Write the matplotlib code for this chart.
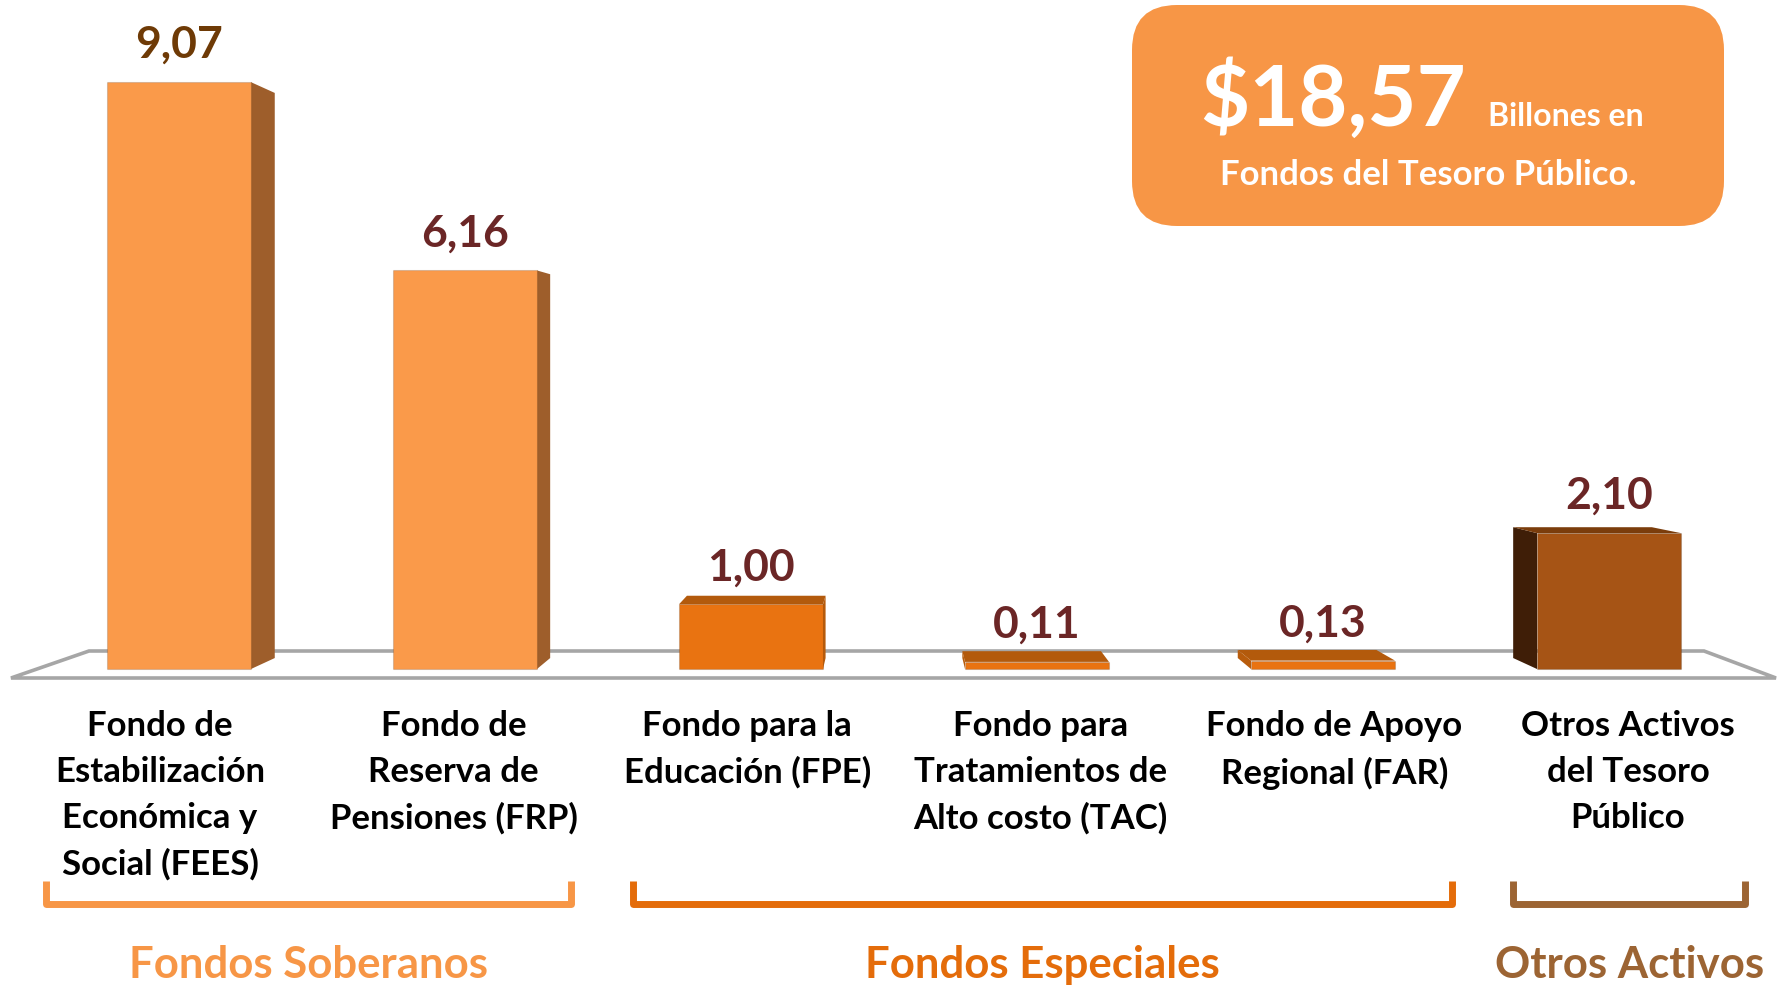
import matplotlib
matplotlib.use("Agg")
import matplotlib.pyplot as plt
from matplotlib.patches import Polygon, FancyBboxPatch
from matplotlib.transforms import Affine2D

# ---------------- data ----------------
categories = [
    "Fondo de\nEstabilización\nEconómica y\nSocial (FEES)",
    "Fondo de\nReserva de\nPensiones (FRP)",
    "Fondo para la\nEducación (FPE)",
    "Fondo para\nTratamientos de\nAlto costo (TAC)",
    "Fondo de Apoyo\nRegional (FAR)",
    "Otros Activos\ndel Tesoro\nPúblico",
]
values = [9.07, 6.16, 1.00, 0.11, 0.13, 2.10]
front_colors = ["#FA9A4A", "#FA9A4A", "#E97311", "#E97311", "#E97311", "#A65415"]
side_colors = ["#9E5E2B", "#9E5E2B", "#B85C0C", "#B85C0C", "#B85C0C", "#3F1E07"]
top_colors = ["#B06A30", "#B06A30", "#B35A0C", "#B35A0C", "#B35A0C", "#7B3D0C"]
label_colors = ["#6E3A06", "#6B2626", "#6B2626", "#6B2626", "#6B2626", "#6B2626"]

groups = ["Fondos Soberanos", "Fondos Especiales", "Otros Activos"]
group_members = [(0, 1), (2, 4), (5, 5)]
group_colors = ["#F79646", "#E46C0A", "#9C6433"]

total_value = "$18,57"
total_unit = "Billones en"
total_caption = "Fondos del Tesoro Público."

# ---------------- layout ----------------
W, H = 1787, 994
fig = plt.figure(figsize=(W / 100, H / 100), dpi=100)
ax = fig.add_axes([0, 0, 1, 1])

X0_PX, STEP_PX = 179, 286.0     # pixel of first bar centre, spacing
Y0_PX, UNIT_PX = 669, 64.7      # pixel of value 0, pixels per unit


def X(px):
    return (px - X0_PX) / STEP_PX


def Y(py):
    return (Y0_PX - py) / UNIT_PX


ax.set_xlim(X(0), X(W))
ax.set_ylim(Y(H), Y(0))
ax.axis("off")

# perspective floor
VPx, VPy = X(893), Y(373)
floor = Polygon([(X(11), Y(678)), (X(1776), Y(678)), (X(1704), Y(651)), (X(89), Y(651))],
                closed=True, fill=False, edgecolor="#A6A6A6", linewidth=2.6, zorder=1)
ax.add_patch(floor)

xpos = list(range(len(values)))
bw = 144 / STEP_PX
t = 0.037


def back(px, py):
    return (px + t * (VPx - px), py + t * (VPy - py))


for i, (c, v) in enumerate(zip(xpos, values)):
    xl, xr = c - bw / 2, c + bw / 2
    if xr < VPx:
        ax.add_patch(Polygon([(xr, 0), (xr, v), back(xr, v), back(xr, 0)],
                             closed=True, facecolor=side_colors[i], edgecolor="none", zorder=2))
    if xl > VPx:
        ax.add_patch(Polygon([(xl, 0), (xl, v), back(xl, v), back(xl, 0)],
                             closed=True, facecolor=side_colors[i], edgecolor="none", zorder=2))
    if v < VPy:
        ax.add_patch(Polygon([(xl, v), (xr, v), back(xr, v), back(xl, v)],
                             closed=True, facecolor=top_colors[i], edgecolor="none", zorder=2))

ax.bar(xpos, values, width=bw, color=front_colors, edgecolor="#00000022",
       linewidth=0.8, zorder=3)

for i, (c, v) in enumerate(zip(xpos, values)):
    ax.text(c, v + 37 / UNIT_PX, f"{v:.2f}".replace(".", ","), ha="center", va="center",
            fontsize=32, fontweight="bold", family="Lato", color=label_colors[i], zorder=5)

# category labels on the (wider) front line
label_x = [2.5 + (i - 2.5) * 1.0264 for i in xpos]
for lx, cat in zip(label_x, categories):
    ax.text(lx, Y(710), cat, ha="center", va="top", fontsize=25, fontweight="bold",
            family="Lato", color="black", linespacing=1.53)

# group brackets
for name, (a, b), col in zip(groups, group_members, group_colors):
    x0 = label_x[a] - 0.40
    x1 = label_x[b] + 0.41
    ax.plot([x0, x0, x1, x1], [Y(881), Y(904), Y(904), Y(881)], color=col,
            linewidth=5, solid_joinstyle="round", solid_capstyle="butt")
    ax.text((x0 + x1) / 2, Y(965), name, ha="center", va="center", fontsize=31.5,
            fontweight="bold", family="Lato", color=col)

# total box (pixel coordinates, origin bottom-left)
pix = Affine2D().scale(1 / W, 1 / H) + fig.transFigure
box = FancyBboxPatch((1132, H - 226), 592, 221, boxstyle="round,pad=0,rounding_size=45",
                     facecolor="#F79646", edgecolor="none", transform=pix)
fig.patches.append(box)
fig.text(1200, H - 126, total_value, transform=pix, ha="left", va="baseline",
         fontsize=61, fontweight="bold", family="Lato", color="white")
fig.text(1488, H - 126, total_unit, transform=pix, ha="left", va="baseline",
         fontsize=23, fontweight="bold", family="Lato", color="white")
fig.text(1428, H - 185, total_caption, transform=pix, ha="center", va="baseline",
         fontsize=25, fontweight="bold", family="Lato", color="white")

fig.savefig("out.png", dpi=100, facecolor="white")
